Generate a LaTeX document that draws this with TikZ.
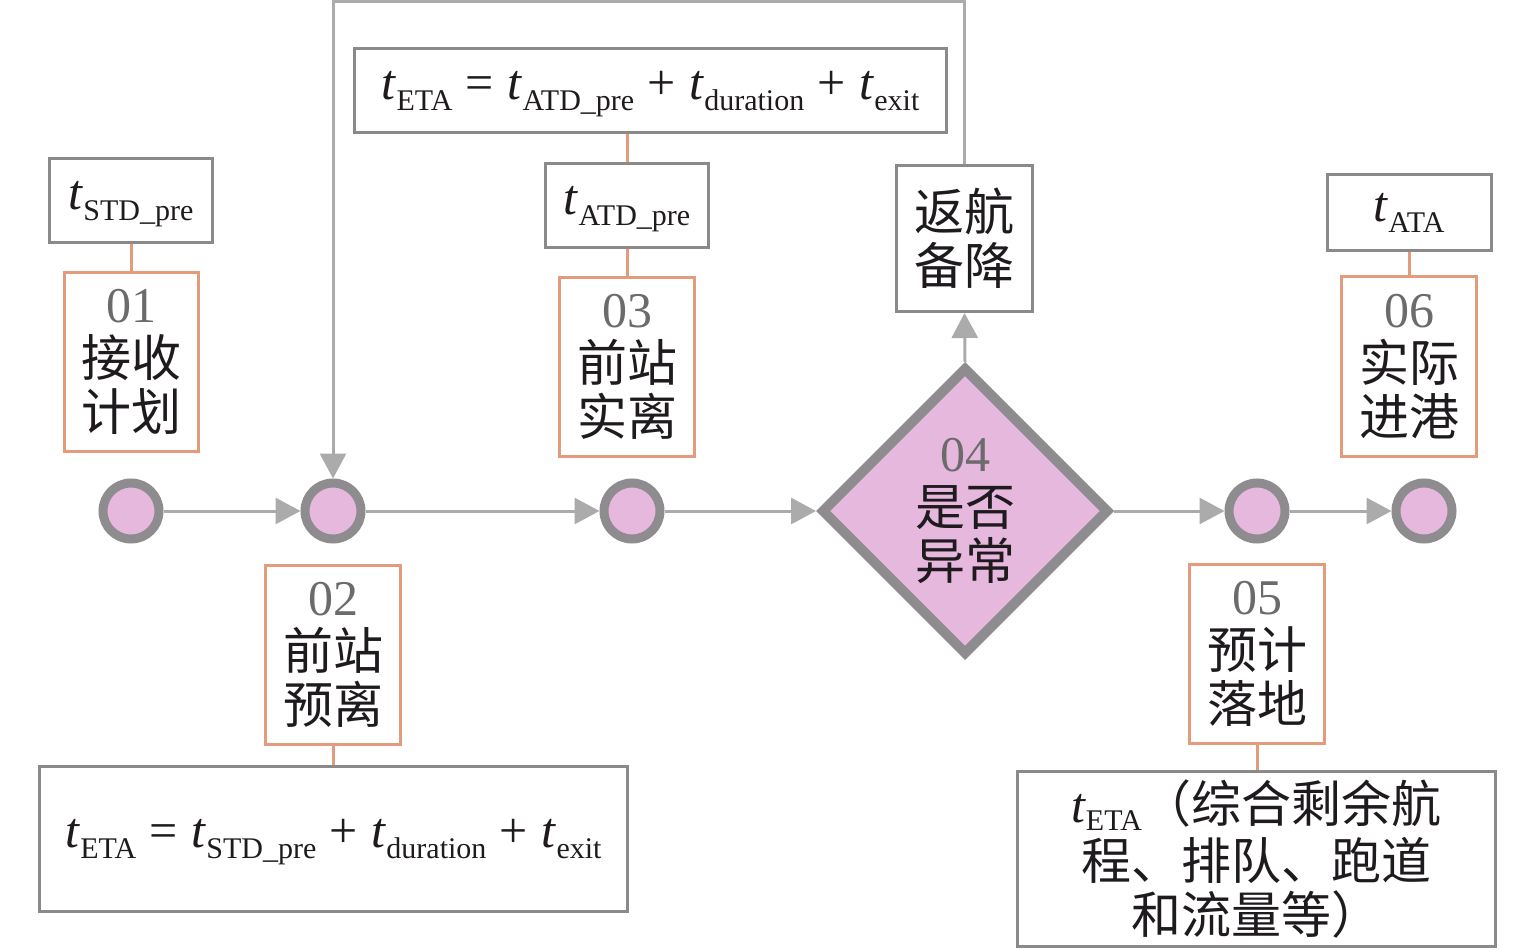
\documentclass[tikz,border=0pt]{standalone}
\usepackage{fontspec}
\setmainfont{Liberation Serif}
\newfontfamily\cjk{Noto Sans CJK SC}
\usetikzlibrary{arrows.meta,shapes.geometric}
\definecolor{pinkf}{HTML}{E6B8DE}
\definecolor{ringc}{HTML}{8E8C8E}
\definecolor{arrc}{HTML}{ABABAB}
\definecolor{boxc}{HTML}{8A8A8A}
\definecolor{orc}{HTML}{E39B7B}
\definecolor{numc}{HTML}{6B6B6B}
\definecolor{txtc}{HTML}{1E1A1E}
\newcommand\tvar[1]{\textit{t}\raisebox{-0.22em}{\smash{\fontsize{30}{30}\selectfont #1}}}
\newcommand\opr[1]{\hspace{0.27em}#1\hspace{0.27em}}
\begin{document}
\begin{tikzpicture}[x=1pt,y=-1pt,
  every node/.style={font=\fontsize{50}{54}\selectfont, text=txtc, inner sep=0pt},
  ring/.style={circle, draw=ringc, line width=9pt, fill=pinkf, minimum size=56pt},
  gbox/.style={draw=boxc, line width=3pt, align=center},
  obox/.style={draw=orc, line width=3pt, align=center},
  flow/.style={draw=arrc, line width=3pt, -{Triangle[length=25pt,width=26pt]}},
  tie/.style={draw=orc, line width=3pt}]
\useasboundingbox (0,0) rectangle (1535,950);

% circles
\node[ring] (c1) at (131,511) {};
\node[ring] (c2) at (333,511) {};
\node[ring] (c3) at (632,511) {};
\node[ring] (c5) at (1257,511) {};
\node[ring] (c6) at (1424,511) {};

% diamond
\node[diamond, aspect=1, draw=ringc, line width=10pt, fill=pinkf,
      minimum width=288pt, minimum height=288pt, align=center] (d) at (965,511)
  {{\color{numc}04}\\{\cjk 是否}\\{\cjk 异常}};

% upper boxes
\node[gbox, minimum width=163pt, minimum height=84pt] (tstd) at (131,200.5) {\tvar{STD\_pre}};
\node[obox, minimum width=134pt, minimum height=179pt] (b01) at (131,362) {{\color{numc}01}\\{\cjk 接收}\\{\cjk 计划}};
\node[gbox, minimum width=592pt, minimum height=84pt] (ftop) at (650.5,90.5)
  {\tvar{ETA}\opr{=}\tvar{ATD\_pre}\opr{+}\tvar{duration}\opr{+}\tvar{exit}};
\node[gbox, minimum width=163pt, minimum height=84pt] (tatd) at (627,205.5) {\tvar{ATD\_pre}};
\node[obox, minimum width=135pt, minimum height=179pt] (b03) at (627,367) {{\color{numc}03}\\{\cjk 前站}\\{\cjk 实离}};
\node[gbox, minimum width=136pt, minimum height=146pt] (fh) at (964.5,238.5) {{\cjk 返航}\\{\cjk 备降}};
\node[gbox, minimum width=164pt, minimum height=76pt] (tata) at (1409,212.5) {\tvar{ATA}};
\node[obox, minimum width=135pt, minimum height=180pt] (b06) at (1409,366.5) {{\color{numc}06}\\{\cjk 实际}\\{\cjk 进港}};

% lower boxes
\node[obox, minimum width=135pt, minimum height=179pt] (b02) at (333,655) {{\color{numc}02}\\{\cjk 前站}\\{\cjk 预离}};
\node[gbox, minimum width=588pt, minimum height=145pt] (fbot) at (333.5,839)
  {\tvar{ETA}\opr{=}\tvar{STD\_pre}\opr{+}\tvar{duration}\opr{+}\tvar{exit}};
\node[obox, minimum width=135pt, minimum height=179pt] (b05) at (1257,654) {{\color{numc}05}\\{\cjk 预计}\\{\cjk 落地}};
\node[gbox, minimum width=478pt, minimum height=175pt] (fbr) at (1256.5,859)
  {\textit{t}\raisebox{-0.16em}{\smash{\fontsize{30}{30}\selectfont ETA}}{\cjk （综合剩余航}\\[3pt]{\cjk 程、排队、跑道}\\{\cjk 和流量等）}};

% ties
\draw[tie] (tstd.south) -- (b01.north);
\draw[tie] (tatd.north) -- (tatd.north |- ftop.south);
\draw[tie] (tatd.south) -- (b03.north);
\draw[tie] (tata.south) -- (b06.north);
\draw[tie] (b02.south) -- (b02.south |- fbot.north);
\draw[tie] (b05.south) -- (b05.south |- fbr.north);

% flow arrows
\draw[flow] (c1) -- (c2);
\draw[flow] (c2) -- (c3);
\draw[flow] (c3) -- (d.west);
\draw[flow] (d.east) -- (c5);
\draw[flow] (c5) -- (c6);
\draw[flow] (d.north) -- (fh.south);
\coordinate (loopy) at (650,2);
\draw[flow] (fh.north) |- (loopy) -| (c2.north);
\end{tikzpicture}
\end{document}
